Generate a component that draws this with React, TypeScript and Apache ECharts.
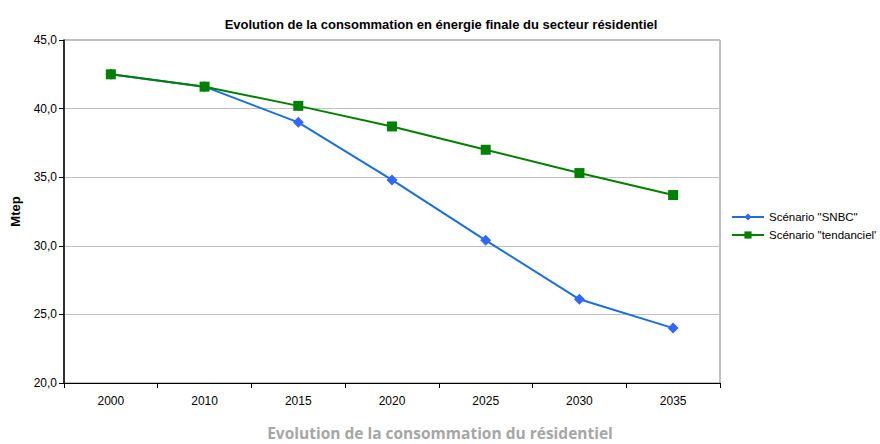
import React, { useEffect, useRef } from "react";
import * as echarts from "echarts";

const years = ["2000", "2010", "2015", "2020", "2025", "2030", "2035"];
const snbc = [42.5, 41.6, 39.0, 34.8, 30.4, 26.1, 24.0];
const tendanciel = [42.5, 41.6, 40.2, 38.7, 37.0, 35.3, 33.7];
const seriesNames = ['Scénario "SNBC"', 'Scénario "tendanciel\''];

const FONT = "'Liberation Sans', Arial, sans-serif";

export default function App() {
  const ref = useRef<HTMLDivElement>(null);

  useEffect(() => {
    if (!ref.current) return;
    const chart = echarts.init(ref.current, null, { renderer: "svg" });
    chart.setOption({
      animation: false,
      backgroundColor: "#ffffff",
      textStyle: { fontFamily: FONT },
      title: {
        text: "Evolution de la consommation en énergie finale du secteur résidentiel",
        left: 436,
        top: 13,
        textAlign: "center",
        textStyle: { fontSize: 13, fontWeight: "bold", color: "#000", fontFamily: FONT },
      },
      legend: {
        orient: "vertical",
        left: 726,
        top: 206,
        itemWidth: 32,
        itemHeight: 9,
        itemGap: 6,
        textStyle: { fontSize: 11.5, color: "#000", fontFamily: FONT },
        data: seriesNames,
      },
      grid: {
        left: 64,
        right: 160,
        top: 40,
        bottom: 61,
        show: true,
        borderColor: "#808080",
        borderWidth: 1,
      },
      xAxis: {
        type: "category",
        data: years,
        boundaryGap: true,
        axisLine: { lineStyle: { color: "#000", width: 1 } },
        axisTick: { show: true, alignWithLabel: false, length: 5, lineStyle: { color: "#000" } },
        axisLabel: { fontSize: 12, color: "#000", margin: 12, fontFamily: FONT },
      },
      yAxis: {
        type: "value",
        min: 20,
        max: 45,
        interval: 5,
        name: "Mtep",
        nameLocation: "middle",
        nameRotate: 90,
        nameGap: 42,
        nameTextStyle: { fontSize: 13, fontWeight: "bold", color: "#000", fontFamily: FONT },
        axisLine: { show: true, lineStyle: { color: "#000", width: 1.5 } },
        axisTick: { show: true, length: 5, lineStyle: { color: "#000" } },
        axisLabel: {
          fontSize: 12,
          color: "#000",
          margin: 7,
          fontFamily: FONT,
          formatter: (v: number) => v.toFixed(1).replace(".", ","),
        },
        splitLine: { show: true, lineStyle: { color: "#c0c0c0", width: 1 } },
      },
      series: [
        {
          name: seriesNames[0],
          type: "line",
          data: snbc,
          symbol: "diamond",
          symbolSize: 11,
          lineStyle: { color: "#1a6fdc", width: 2 },
          itemStyle: { color: "#3366ff" },
          z: 2,
        },
        {
          name: seriesNames[1],
          type: "line",
          data: tendanciel,
          symbol: "rect",
          symbolSize: 10,
          lineStyle: { color: "#008000", width: 2 },
          itemStyle: { color: "#008000" },
          z: 3,
        },
      ],
      graphic: [
        {
          type: "text",
          left: "center",
          top: 425,
          style: {
            text: "Evolution de la consommation du résidentiel",
            fontSize: 15.5,
            fontWeight: "bold",
            fill: "#a6a6a6",
            fontFamily: "'Open Sans', sans-serif",
          },
        },
      ],
    });
    return () => chart.dispose();
  }, []);

  return (
    <div
      ref={ref}
      style={{ position: "fixed", left: 0, top: 0, width: 880, height: 444 }}
    />
  );
}
